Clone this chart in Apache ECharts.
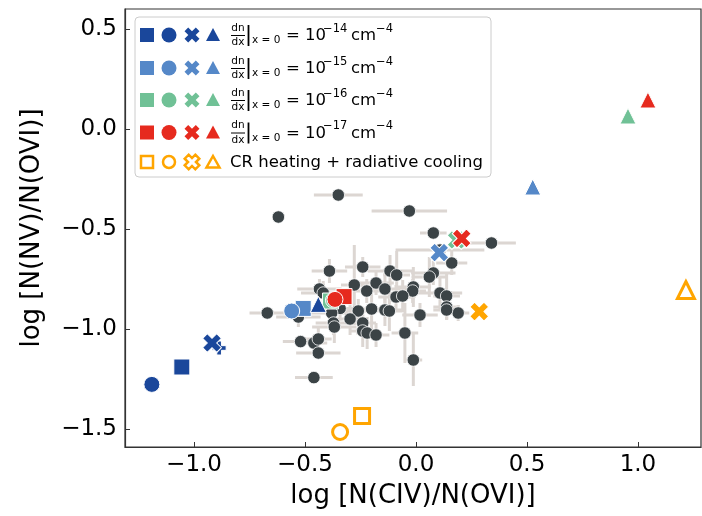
<!DOCTYPE html>
<html>
<head>
<meta charset="utf-8">
<script src="https://cdn.jsdelivr.net/npm/echarts@6/dist/echarts.min.js"></script>
<style>
html, body { margin: 0; padding: 0; background: #fff; }
#chart { width: 702px; height: 516px; }
</style>
</head>
<body>
<div id="chart"></div>
<script>
// observed absorbers
var obsX = [-0.35, -0.62, -0.03, 0.078, 0.34, 0.161, -0.39, -0.24, -0.117, -0.087,
	0.078, 0.06, -0.278, -0.18, -0.14, -0.222, -0.435, -0.012, -0.015, -0.09,
	-0.06, 0.108, 0.138, -0.418, 0.138, 0.19, 0.138, -0.2, -0.26, -0.14,
	-0.12, 0.018, -0.342, -0.38, -0.297, -0.372, -0.368, -0.24, -0.24, -0.22,
	-0.18, -0.05, -0.67, -0.53, -0.52, -0.46, -0.44, -0.44, -0.012, -0.46,
	0.108];
var obsY = [-0.33, -0.44, -0.41, -0.52, -0.57, -0.67, -0.71, -0.69, -0.71, -0.73,
	-0.72, -0.74, -0.78, -0.77, -0.80, -0.81, -0.80, -0.79, -0.81, -0.84,
	-0.835, -0.82, -0.835, -0.82, -0.89, -0.92, -0.905, -0.90, -0.91, -0.905,
	-0.91, -0.93, -0.897, -0.92, -0.95, -0.97, -0.99, -0.97, -1.01, -1.02,
	-1.03, -1.02, -0.92, -0.94, -1.063, -1.07, -1.05, -1.12, -1.155, -1.243,
	-0.605];
var obsXerr = [0.11, 0, 0.17, 0.06, 0.11, 0.07, 0.08, 0.08, 0.1, 0.06,
	0.1, 0.08, 0.06, 0.08, 0.1, 0.06, 0.1, 0.08, 0.06, 0.08,
	0.06, 0.1, 0.06, 0.1, 0.06, 0.05, 0.06, 0.06, 0.08, 0.08,
	0.06, 0.08, 0.1, 0.12, 0.06, 0.08, 0.1, 0.06, 0.06, 0.05,
	0.06, 0.06, 0.08, 0.1, 0.08, 0.06, 0.06, 0.1, 0.04, 0.085,
	0.2];
var obsYerr = [0, 0, 0, 0.03, 0, 0.06, 0.06, 0.05, 0.08, 0.12,
	0.06, 0.1, 0.2, 0.06, 0.08, 0.06, 0.05, 0.1, 0.06, 0.06,
	0.08, 0.08, 0.12, 0.06, 0.06, 0.04, 0.05, 0.1, 0.06, 0.08,
	0.1, 0.06, 0.06, 0.05, 0.08, 0.06, 0.08, 0.06, 0.08, 0.08,
	0.06, 0.15, 0, 0.05, 0, 0.04, 0.06, 0, 0.13, 0,
	0];

// models: [square, circle, x, triangle]
var m14 = [[-1.055, -1.19], [-1.19, -1.277], [-0.919, -1.07], [-0.44, -0.877]];
var m14plus = [[-0.887, -1.095]];
var m15 = [[-0.508, -0.897], [-0.56, -0.91], [0.105, -0.618], [0.526, -0.29]];
var m16 = [[-0.385, -0.86], [-0.372, -0.856], [0.183, -0.555], [0.955, 0.065]];
var m17 = [[-0.324, -0.838], [-0.365, -0.852], [0.206, -0.547], [1.045, 0.145]];
var crModel = [[-0.243, -1.435], [-0.342, -1.515], [0.285, -0.913], [1.216, -0.805]];

var legendExp = ['\u221214', '\u221215', '\u221216', '\u221217'];
var xTicks = [-1.0, -0.5, 0.0, 0.5, 1.0];
var yTicks = [-1.5, -1.0, -0.5, 0.0, 0.5];

var colors = ['#1a479b', '#5588c8', '#70c196', '#e62a1e'];
var orange = '#ffa500';
var FONT = 'DejaVu Sans';

var plusPath = 'path://M2,0 L4,0 L4,2 L6,2 L6,4 L4,4 L4,6 L2,6 L2,4 L0,4 L0,2 L2,2 Z';

var errData = [];
var obsData = [];
for (var i = 0; i < obsX.length; i++) {
	errData.push([obsX[i], obsY[i], obsXerr[i], obsYerr[i]]);
	obsData.push([obsX[i], obsY[i]]);
}

// zs: draw level of square, circle, x, triangle
function modelSeries(pts, color, hollow, zs) {
	var shapes = ['rect', 'circle', plusPath, 'triangle'];
	var sizes = hollow ? [15, 15, 20, 17] : [16, 16, 20, 16];
	var out = [];
	for (var k = 0; k < 4; k++) {
		var filled = !hollow || k == 2;
		out.push({
			type: 'scatter',
			data: [pts[k]],
			symbol: shapes[k],
			symbolSize: sizes[k],
			symbolRotate: k == 2 ? 45 : 0,
			symbolKeepAspect: true,
			z: zs[k],
			itemStyle: {
				color: filled ? color : '#fff',
				borderColor: filled ? '#fff' : color,
				borderWidth: filled ? 1 : 3,
				opacity: 1
			},
			emphasis: { disabled: true }
		});
	}
	return out;
}

function xPoly(cx, cy, a, b) {
	var pts = [[-b, -a], [b, -a], [b, -b], [a, -b], [a, b], [b, b], [b, a], [-b, a], [-b, b], [-a, b], [-a, -b], [-b, -b]];
	return pts.map(function (p) {
		return [cx + (p[0] - p[1]) / Math.SQRT2, cy + (p[0] + p[1]) / Math.SQRT2];
	});
}

function txt(x, y, s, size, align, va) {
	return {
		type: 'text', x: x, y: y, z: 101,
		style: {
			text: s, fontSize: size, fontFamily: FONT, fill: '#000',
			textAlign: align || 'left', align: align || 'left',
			textVerticalAlign: va || 'middle', verticalAlign: va || 'middle'
		}
	};
}

// legend drawn by hand (stacked dn/dx fraction)
var legendEls = [{
	type: 'rect', z: 100,
	shape: { x: 135, y: 17, width: 356, height: 160, r: 4 },
	style: { fill: 'rgba(255,255,255,0.8)', stroke: '#cccccc', lineWidth: 1 }
}];
var rowY = [35, 68, 100, 132.5, 162];
for (var r = 0; r < 5; r++) {
	var cy = rowY[r];
	var c = r < 4 ? colors[r] : orange;
	var hol = r == 4;
	var st = hol ? { fill: '#fff', stroke: c, lineWidth: 2.5 } : { fill: c };
	legendEls.push({ type: 'rect', z: 101, shape: hol ? { x: 141, y: cy - 6, width: 12, height: 12 } : { x: 140, y: cy - 7, width: 14, height: 14 }, style: st });
	legendEls.push({ type: 'circle', z: 101, shape: { cx: 169, cy: cy, r: hol ? 6 : 7.5 }, style: st });
	legendEls.push({ type: 'polygon', z: 101, shape: { points: xPoly(192, cy, hol ? 7.5 : 8, hol ? 2.8 : 2.6) }, style: st });
	legendEls.push({ type: 'polygon', z: 101, shape: { points: hol ? [[213, cy - 6], [219.5, cy + 5.5], [206.5, cy + 5.5]] : [[213, cy - 7], [220, cy + 6], [206, cy + 6]] }, style: st });
	if (r < 4) {
		legendEls.push(txt(238, cy - 7, 'dn', 10.5, 'center'));
		legendEls.push({ type: 'line', z: 101, shape: { x1: 231, y1: cy + 0.5, x2: 245, y2: cy + 0.5 }, style: { stroke: '#000', lineWidth: 1 } });
		legendEls.push(txt(238, cy + 7.5, 'dx', 10.5, 'center'));
		legendEls.push({ type: 'line', z: 101, shape: { x1: 248.5, y1: cy - 10, x2: 248.5, y2: cy + 11 }, style: { stroke: '#000', lineWidth: 1.8 } });
		legendEls.push(txt(252, cy + 5.5, 'x = 0', 10.5));
		legendEls.push(txt(286, cy + 1, '= 10', 16.5));
		legendEls.push(txt(323, cy - 6, legendExp[r], 11.5));
		legendEls.push(txt(351, cy + 1, 'cm', 16.5));
		legendEls.push(txt(376, cy - 6, '\u22124', 11.5));
	} else {
		legendEls.push(txt(230, cy + 1, 'CR heating + radiative cooling', 16.5));
	}
}

var series = [{
	type: 'custom',
	data: errData,
	encode: { x: 0, y: 1 },
	z: 1,
	silent: true,
	renderItem: function (params, api) {
		var x = api.value(0), y = api.value(1), xe = api.value(2), ye = api.value(3);
		var ch = [];
		var st = { stroke: '#dcd6d2', lineWidth: 3 };
		if (xe > 0) {
			var a = api.coord([x - xe, y]), b = api.coord([x + xe, y]);
			ch.push({ type: 'line', shape: { x1: a[0], y1: a[1], x2: b[0], y2: b[1] }, style: st });
		}
		if (ye > 0) {
			var p = api.coord([x, y - ye]), q = api.coord([x, y + ye]);
			ch.push({ type: 'line', shape: { x1: p[0], y1: p[1], x2: q[0], y2: q[1] }, style: st });
		}
		return { type: 'group', children: ch };
	}
}, {
	type: 'scatter',
	data: obsData,
	symbol: 'circle',
	symbolSize: 12.5,
	z: 2,
	itemStyle: { color: '#3b4346', borderColor: '#fff', borderWidth: 0.8, opacity: 1 },
	emphasis: { disabled: true }
}, {
	type: 'scatter',
	data: m14plus,
	symbol: plusPath,
	symbolSize: 14,
	z: 4,
	itemStyle: { color: colors[0], borderColor: '#fff', borderWidth: 1, opacity: 1 }
}];
series = series.concat(modelSeries(m16, colors[2], false, [3, 3, 5, 6]));
series = series.concat(modelSeries(m15, colors[1], false, [5, 5, 5, 6]));
series = series.concat(modelSeries(m14, colors[0], false, [5, 5, 5, 6]));
series = series.concat(modelSeries(m17, colors[3], false, [5, 5, 5, 6]));
series = series.concat(modelSeries(crModel, orange, true, [5, 5, 5, 6]));

function fmt(v) {
	return v.toFixed(1).replace('-', '\u2212');
}

var dom = document.getElementById('chart');
var myChart = echarts.init(dom, null, { renderer: 'canvas' });
var option = {
	animation: false,
	backgroundColor: '#fff',
	grid: { left: 125, right: 1, top: 9, bottom: 69, show: true, borderColor: '#333', borderWidth: 1.2, backgroundColor: 'transparent' },
	xAxis: {
		type: 'value', min: -1.311, max: 1.284,
		name: 'log [N(CIV)/N(OVI)]', nameLocation: 'middle', nameGap: 36,
		nameTextStyle: { fontSize: 26, fontFamily: FONT, color: '#000' },
		axisLine: { show: true, onZero: false, lineStyle: { color: '#333', width: 1.2 } },
		axisTick: { show: true, inside: true, length: 5, customValues: xTicks, lineStyle: { color: '#333' } },
		axisLabel: { customValues: xTicks, formatter: fmt, fontSize: 23, fontFamily: FONT, color: '#000', margin: 7 },
		splitLine: { show: false }
	},
	yAxis: {
		type: 'value', min: -1.59, max: 0.6,
		name: 'log [N(NV)/N(OVI)]', nameLocation: 'middle', nameGap: 80,
		nameTextStyle: { fontSize: 26, fontFamily: FONT, color: '#000' },
		axisLine: { show: true, onZero: false, lineStyle: { color: '#333', width: 1.2 } },
		axisTick: { show: true, inside: true, length: 5, customValues: yTicks, lineStyle: { color: '#333' } },
		axisLabel: { customValues: yTicks, formatter: fmt, fontSize: 23, fontFamily: FONT, color: '#000', margin: 8 },
		splitLine: { show: false }
	},
	graphic: { elements: legendEls },
	series: series
};
myChart.setOption(option, true);
</script>
</body>
</html>
